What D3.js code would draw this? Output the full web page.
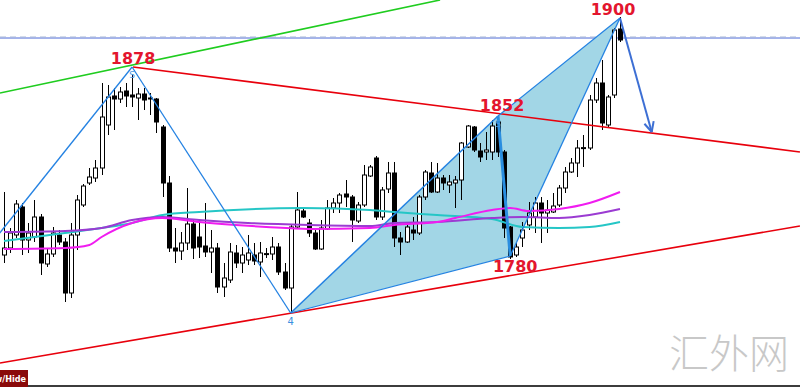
<!DOCTYPE html>
<html>
<head>
<meta charset="utf-8">
<script src="https://cdn.jsdelivr.net/npm/d3@7"></script>
<style>
  body { margin: 0; background: #fff; }
  svg { display: block; }
</style>
</head>
<body>
<script>
const width = 800;
const height = 387;

// OHLC, one entry per candle (index 0 = leftmost)
const opens = [
  1781.5, 1785, 1791.5, 1805.5, 1789, 1790.5, 1800.5, 1777, 1782, 1791.5,
  1788, 1762.5, 1791.5, 1806.5, 1817.5, 1820, 1825, 1846.5, 1861, 1859.5,
  1863.5, 1861.5, 1860, 1862, 1860, 1859.5, 1845.5, 1817.5, 1785, 1783.5,
  1787.5, 1797, 1790.5, 1786, 1783, 1785, 1765.5, 1769, 1782.5, 1777.5,
  1779, 1781.5, 1778, 1781.8, 1782, 1785.5, 1773, 1765, 1795.5, 1803.5,
  1797.5, 1792.5, 1784.5, 1794.5, 1805, 1807.5, 1812, 1810.5, 1798.5, 1806.5,
  1821, 1830, 1800.5, 1814.5, 1822.5, 1790, 1788, 1794, 1792.5, 1810.5,
  1822.5, 1813, 1820, 1816.5, 1817.5, 1819, 1835.5, 1845.5, 1833.5, 1833,
  1833, 1848, 1833, 1795.5, 1781.5, 1790, 1796.5, 1800.5, 1807.5, 1802.5,
  1803, 1806.5, 1815, 1823, 1827.5, 1835, 1835, 1859, 1867.5, 1846.5,
  1861.5, 1894.5
];
const highs = [
  1813, 1795, 1809, 1807.5, 1797.5, 1809, 1802, 1785, 1795.5, 1794,
  1790, 1797.5, 1811.5, 1817, 1825, 1829, 1867.5, 1866.5, 1865, 1865.5,
  1867.5, 1872, 1865, 1865, 1862.5, 1860, 1846.5, 1821, 1795, 1793,
  1815, 1799, 1797.5, 1807.5, 1794, 1787.5, 1777.5, 1787.5, 1786.5, 1785.5,
  1791.5, 1787.5, 1788, 1785, 1790.5, 1787.5, 1777.5, 1796.5, 1813, 1805,
  1799.5, 1794, 1799, 1809, 1810, 1812.5, 1819, 1811.5, 1808, 1826.5,
  1826.5, 1831, 1815.5, 1828, 1828, 1793, 1797.5, 1800.5, 1811.5, 1824,
  1828, 1827.5, 1821.5, 1821.5, 1821, 1838, 1846.5, 1846, 1837.5, 1843,
  1849, 1849.5, 1834, 1796, 1787.5, 1798, 1808, 1810.5, 1810.5, 1809,
  1812.5, 1816.5, 1825.5, 1830, 1839, 1841.5, 1861.5, 1870, 1879, 1861.5,
  1895, 1900.5
];
const lows = [
  1777.5, 1782.5, 1790, 1781.5, 1782.5, 1788, 1771.5, 1775.5, 1780.5, 1786.5,
  1758, 1760, 1784, 1805.5, 1816.5, 1818, 1821.5, 1841.5, 1844, 1857.5,
  1855.5, 1855.5, 1849, 1854, 1851.5, 1842.5, 1810.5, 1783, 1777.5, 1779,
  1784, 1779.5, 1780, 1780.5, 1772.5, 1762.5, 1760.5, 1767.5, 1775, 1772.5,
  1776.5, 1776.5, 1770.5, 1780, 1779, 1771.5, 1764, 1752.5, 1795, 1800,
  1790.5, 1784, 1784, 1794, 1802.5, 1802.5, 1805.5, 1788, 1797.5, 1805.5,
  1820.5, 1799, 1799, 1812.5, 1785.5, 1781.5, 1787.5, 1789, 1791.5, 1809,
  1812.5, 1812.5, 1814, 1812.5, 1805, 1809, 1835, 1833, 1828, 1829,
  1829, 1830.5, 1790, 1779.5, 1780.5, 1785.5, 1794, 1792.5, 1787.5, 1792.5,
  1802.5, 1805.5, 1812.5, 1822.5, 1820.5, 1825.5, 1834, 1857.5, 1844, 1845.5,
  1860, 1888
];
const closes = [
  1785, 1792.5, 1807, 1789, 1792.5, 1800.5, 1777.5, 1782, 1792.5, 1788,
  1762.5, 1791.5, 1809, 1816, 1820.5, 1825, 1850.5, 1860.5, 1859.5, 1863,
  1861, 1860.5, 1862, 1859, 1859.5, 1848, 1817.5, 1785, 1783.5, 1787.5,
  1797, 1785, 1785.5, 1783, 1785, 1765.5, 1770, 1783, 1777.5, 1781.5,
  1782.5, 1778.5, 1782.5, 1782.2, 1785.5, 1773, 1765, 1795.5, 1804, 1800.5,
  1792.5, 1784.5, 1795, 1805, 1807.5, 1811.5, 1810.5, 1799, 1806.5, 1821.5,
  1825.5, 1800.5, 1814, 1822.5, 1790, 1788, 1795.5, 1792.5, 1810.5, 1823,
  1813, 1820, 1817.5, 1818, 1819, 1837.5, 1846, 1834, 1830.5, 1834,
  1846, 1833, 1795, 1780.5, 1785.5, 1794, 1802.5, 1807.5, 1802.5, 1804,
  1806, 1815, 1823, 1827.5, 1835, 1835.2, 1859, 1867.5, 1847.5, 1860.5,
  1894, 1889
];

// moving averages, read at a few candle indices
const cyanIdx = [0, 10, 16, 21, 26, 32, 49, 60, 64, 71, 80, 85, 91, 96, 101];
const cyanVal = [1788.5, 1792.5, 1795, 1797.5, 1801.5, 1803, 1805, 1804, 1803, 1801.5, 1799.5, 1795.5, 1795, 1795.5, 1798];
const purpleIdx = [0, 10, 16, 21, 26, 32, 40, 50, 60, 64, 71, 80, 85, 91, 96, 101];
const purpleVal = [1793, 1793.5, 1795, 1799, 1800.5, 1799, 1797.5, 1796.5, 1796, 1797.5, 1798, 1800, 1800.5, 1800, 1801.5, 1804.5];
const magentaIdx = [0, 10, 14, 16, 21, 26, 32, 38, 43, 50, 60, 64, 71, 74, 80, 83, 86, 91, 96, 101];
const magentaVal = [1784.5, 1785, 1786.5, 1790.5, 1797.5, 1800, 1798, 1796.5, 1795.5, 1794.5, 1795, 1796.5, 1798, 1800, 1804, 1805, 1803.5, 1804.5, 1807.5, 1813];

// harmonic pattern pivots
const pivotIdx = [-0.7, 21, 47, 81, 83, 101];
const pivotPrice = [1792.5, 1875.5, 1752.5, 1851, 1781, 1900];
const pivotLabels = ["", "1878", "4", "1852", "1780", "1900"];
const targetIdx = 106.2;
const targetPrice = 1843;

// trend lines: [idx1, price1, idx2, price2]
const redUpper = [21.15, 1875.5, 130.5, 1833];
const redLower = [-0.66, 1727.5, 130.5, 1796];
const greenLine = [-0.66, 1862.5, 71.5, 1909];
const levelPrice = 1890;

const x = d3.scaleLinear().domain([0, 101]).range([4, 620]);
const y = d3.scaleLinear().domain([1730, 1909]).range([358, 0]);

const svg = d3.select("body").append("svg")
  .attr("width", width)
  .attr("height", height);

svg.append("rect").attr("width", width).attr("height", height).attr("fill", "#fff");

// horizontal level
svg.append("line")
  .attr("x1", 0).attr("x2", width)
  .attr("y1", y(levelPrice)).attr("y2", y(levelPrice))
  .attr("stroke", "#4a68d8").attr("stroke-width", 1);
svg.append("line")
  .attr("x1", 0).attr("x2", width)
  .attr("y1", y(levelPrice) - 1).attr("y2", y(levelPrice) - 1)
  .attr("stroke", "#a9b8d8").attr("stroke-width", 1)
  .attr("stroke-dasharray", "6,4");

const P = pivotIdx.map((d, i) => [x(d), y(pivotPrice[i])]);

// shaded triangles
[[2, 3, 4], [3, 4, 5]].forEach(t => {
  svg.append("path")
    .attr("d", "M" + t.map(k => P[k].join(",")).join("L") + "Z")
    .attr("fill", "#a2d6e6");
});

// candles
const candles = svg.append("g");
opens.forEach((o, i) => {
  const cx = Math.round(x(i)) + 0.5;
  const c = closes[i];
  const bull = c >= o;
  candles.append("line")
    .attr("x1", cx).attr("x2", cx)
    .attr("y1", y(highs[i])).attr("y2", y(lows[i]))
    .attr("stroke", "#000").attr("stroke-width", 1);
  const top = y(Math.max(o, c));
  const h = Math.max(1, y(Math.min(o, c)) - top);
  candles.append("rect")
    .attr("x", cx - 2).attr("y", top)
    .attr("width", 4).attr("height", h)
    .attr("fill", bull ? "#fff" : "#000")
    .attr("stroke", "#000").attr("stroke-width", 1);
});

// moving averages
const maLine = d3.line()
  .x(d => x(d[0]))
  .y(d => y(d[1]))
  .curve(d3.curveMonotoneX);

[[cyanIdx, cyanVal, "#25c6c6"], [purpleIdx, purpleVal, "#9b3bd2"], [magentaIdx, magentaVal, "#f01cf0"]]
  .forEach(([idx, val, col]) => {
    svg.append("path")
      .attr("d", maLine(idx.map((d, i) => [d, val[i]])))
      .attr("fill", "none")
      .attr("stroke", col)
      .attr("stroke-width", 2);
  });

// trend lines
function trend(t, col) {
  svg.append("line")
    .attr("x1", x(t[0])).attr("y1", y(t[1]))
    .attr("x2", x(t[2])).attr("y2", y(t[3]))
    .attr("stroke", col).attr("stroke-width", 1.6);
}
trend(redUpper, "#e8000c");
trend(redLower, "#e8000c");
trend(greenLine, "#1fcc1f");

// pattern legs
const blue = "#2482e2";
function leg(a, b, w, col) {
  svg.append("line")
    .attr("x1", a[0]).attr("y1", a[1])
    .attr("x2", b[0]).attr("y2", b[1])
    .attr("stroke", col || blue).attr("stroke-width", w);
}
leg(P[0], P[1], 1.3);
leg(P[1], P[2], 1.3);
leg(P[2], P[3], 1.5);
leg(P[2], P[4], 1.2);
leg(P[3], P[5], 1.2);
leg(P[4], P[5], 1.3);
leg(P[3], P[4], 3, "#2a8ee0");

// projection arrow
const T = [x(targetIdx), y(targetPrice)];
leg(P[5], T, 2, "#3d6fd4");
const ang = Math.atan2(T[1] - P[5][1], T[0] - P[5][0]);
[-0.45, 0.45].forEach(a => {
  leg(T, [T[0] - 11 * Math.cos(ang + a), T[1] - 11 * Math.sin(ang + a)], 2, "#3d6fd4");
});

// pivot labels
const labelOffsets = [null, [1, -3], null, [4, -5], [5, 16], [-7, -3]];
pivotLabels.forEach((t, i) => {
  if (!labelOffsets[i] || !t) return;
  svg.append("text")
    .attr("x", P[i][0] + labelOffsets[i][0])
    .attr("y", P[i][1] + labelOffsets[i][1])
    .attr("text-anchor", "middle")
    .attr("font-family", "DejaVu Sans, sans-serif")
    .attr("font-weight", "bold")
    .attr("font-size", 16)
    .attr("fill", "#e3152e")
    .text(t);
});
svg.append("text")
  .attr("x", P[2][0]).attr("y", P[2][1] + 12)
  .attr("text-anchor", "middle")
  .attr("font-family", "DejaVu Sans, sans-serif")
  .attr("font-size", 10)
  .attr("fill", "#3a90e0")
  .text(pivotLabels[2]);
[1, 3].forEach(i => {
  svg.append("text")
    .attr("x", P[i][0]).attr("y", P[i][1] + 11)
    .attr("text-anchor", "middle")
    .attr("font-family", "DejaVu Sans, sans-serif")
    .attr("font-size", 9)
    .attr("fill", "#4a9ae0")
    .text("S");
});

// watermark
svg.append("text")
  .attr("x", 729).attr("y", 368)
  .attr("text-anchor", "middle")
  .attr("font-family", "Noto Sans CJK SC")
  .attr("font-weight", 300)
  .attr("font-size", 40)
  .attr("fill", "#c8c8c8")
  .text("汇外网");

// bottom bar and button (its label runs off the left edge, as in the terminal)
svg.append("rect").attr("x", 0).attr("y", 385).attr("width", width).attr("height", 2).attr("fill", "#3c3c3c");
svg.append("rect").attr("x", 0).attr("y", 370).attr("width", 28).attr("height", 17).attr("fill", "#8a0a0a");
svg.append("text")
  .attr("x", 26).attr("y", 382)
  .attr("text-anchor", "end")
  .attr("font-family", "DejaVu Sans Condensed, DejaVu Sans, sans-serif")
  .attr("font-weight", "bold")
  .attr("font-size", 9)
  .attr("fill", "#fff")
  .text("Show/Hide");
</script>
</body>
</html>
